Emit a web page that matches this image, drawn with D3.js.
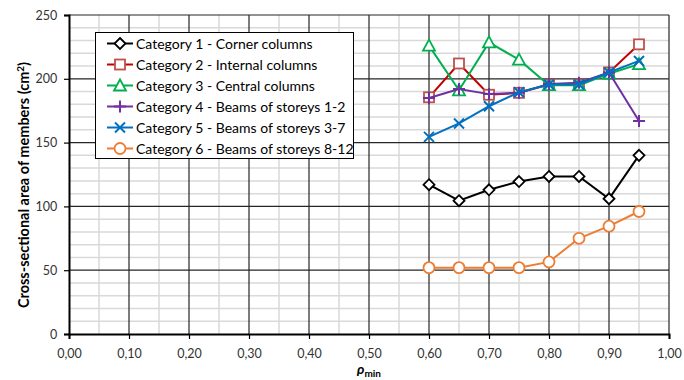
<!DOCTYPE html>
<html><head><meta charset="utf-8">
<script src="https://cdn.jsdelivr.net/npm/d3@7"></script>
<style>body{margin:0;background:#fff}svg{display:block}</style>
</head><body><svg id="c" width="684" height="380"></svg>
<script>
const xValues = [0.6, 0.65, 0.7, 0.75, 0.8, 0.85, 0.9, 0.95];
const seriesNames = [
  "Category 1 - Corner columns",
  "Category 2 - Internal columns",
  "Category 3 - Central columns",
  "Category 4 - Beams of storeys 1-2",
  "Category 5 - Beams of storeys 3-7",
  "Category 6 - Beams of storeys 8-12"
];
const cat1 = [117, 104.5, 113, 119.5, 123.5, 123.5, 106, 140];
const cat2 = [185.5, 212, 187.5, 189, 195.5, 195.5, 205, 227];
const cat3 = [226, 191, 228.5, 215, 195, 195, 204, 211.5];
const cat4 = [185, 192, 188, 189, 196, 197, 205, 167];
const cat5 = [154.5, 165, 178.5, 189.5, 195.5, 195.5, 205, 214];
const cat6 = [52, 52, 52, 52, 56.5, 75, 84.5, 96];
const xTicks = [0,0.1,0.2,0.3,0.4,0.5,0.6,0.7,0.8,0.9,1.0];
const yTicks = [0,50,100,150,200,250];

const seriesData = [cat1,cat2,cat3,cat4,cat5,cat6];
const lineColors = ["#000000","#c00000","#00b050","#7030a0","#0070c0","#ed7d31"];
const markerStroke = ["#000000","#c0504d","#00b050","#7030a0","#0070c0","#ed7d31"];
const markerType = ["diamond","square","triangle","plus","cross","circle"];
const FONT = "Lato, 'Open Sans', sans-serif";

const svg = d3.select("#c");
const L=69, R=669, T=15, B=334;
const x = d3.scaleLinear().domain([0,1]).range([L,R]);
const y = d3.scaleLinear().domain([0,250]).range([B,T]);

const g = svg.append("g");
// minor grid
g.selectAll(".mx").data(d3.range(0.05,1,0.1)).enter().append("line")
  .attr("x1",d=>x(d)).attr("x2",d=>x(d)).attr("y1",T).attr("y2",B)
  .attr("stroke","#d9d9d9").attr("stroke-width",1.5);
g.selectAll(".my").data(d3.range(10,250,10).filter(v=>v%50!==0)).enter().append("line")
  .attr("y1",d=>y(d)).attr("y2",d=>y(d)).attr("x1",L).attr("x2",R)
  .attr("stroke","#d9d9d9").attr("stroke-width",1.5);
// major grid
g.selectAll(".Mx").data(xTicks.slice(1)).enter().append("line")
  .attr("x1",d=>x(d)).attr("x2",d=>x(d)).attr("y1",T).attr("y2",B)
  .attr("stroke","#262626").attr("stroke-width",1.2);
g.selectAll(".My").data(yTicks.slice(1)).enter().append("line")
  .attr("y1",d=>y(d)).attr("y2",d=>y(d)).attr("x1",L).attr("x2",R)
  .attr("stroke","#262626").attr("stroke-width",1.2);

// axes
const xAxis = d3.axisBottom(x).tickValues(xTicks).tickSize(5).tickFormat(d=>d3.format(".2f")(d).replace(".",","));
const ax = svg.append("g").attr("transform",`translate(0,${B})`).call(xAxis);
ax.select(".domain").attr("stroke","#000").attr("stroke-width",2);
ax.selectAll(".tick line").attr("stroke","#000").attr("stroke-width",1.2);
ax.selectAll("text").attr("font-family",FONT).attr("font-size",12.5).attr("fill","#333").attr("dy","1.25em");
const yAxis = d3.axisLeft(y).tickValues(yTicks).tickSize(5).tickFormat(d3.format("d"));
const ay = svg.append("g").attr("transform",`translate(${L},0)`).call(yAxis);
ay.select(".domain").attr("stroke","#000").attr("stroke-width",2);
ay.selectAll(".tick line").attr("stroke","#000").attr("stroke-width",1.2);
ay.selectAll("text").attr("font-family",FONT).attr("font-size",12.5).attr("fill","#333").attr("dx","-0.3em");

// titles
svg.append("text").attr("transform",`translate(29,185) rotate(-90)`)
  .attr("text-anchor","middle").attr("font-family",FONT).attr("font-weight","bold").attr("font-size",14.5).attr("fill","#000")
  .html('Cross-sectional area of members (cm<tspan dy="-5" font-size="10">2</tspan><tspan dy="5">)</tspan>');
const xt = svg.append("text").attr("x",x(0.5)).attr("y",374).attr("text-anchor","middle")
  .attr("font-family",FONT).attr("font-weight","bold").attr("font-size",14).attr("fill","#000");
xt.append("tspan").attr("font-style","italic").text("ρ");
xt.append("tspan").attr("font-size",10).attr("dy",3).text("min");

function marker(sel, type, color){
  if(type==="diamond") sel.append("path").attr("d",`M0,${-5.5}L5.5,0L0,5.5L-5.5,0Z`).attr("fill","#fff").attr("stroke",color).attr("stroke-width",1.8);
  else if(type==="square") sel.append("rect").attr("x",-5).attr("y",-5).attr("width",10).attr("height",10).attr("fill","#fff").attr("stroke",color).attr("stroke-width",1.8);
  else if(type==="triangle") sel.append("path").attr("d","M0,-6L6,5L-6,5Z").attr("fill","#fff").attr("stroke",color).attr("stroke-width",1.8);
  else if(type==="plus") sel.append("path").attr("d","M-6,0L6,0M0,-6L0,6").attr("stroke",color).attr("stroke-width",2);
  else if(type==="cross") sel.append("path").attr("d","M-5,-5L5,5M-5,5L5,-5").attr("stroke",color).attr("stroke-width",2);
  else if(type==="circle") sel.append("circle").attr("r",5.5).attr("fill","#fff").attr("stroke",color).attr("stroke-width",1.8);
}

const line = d3.line().x((d,i)=>x(xValues[i])).y(d=>y(d));
seriesData.forEach((vals,k)=>{
  svg.append("path").datum(vals).attr("d",line).attr("fill","none").attr("stroke",lineColors[k]).attr("stroke-width",2);
  vals.forEach((v,i)=>{
    const m = svg.append("g").attr("transform",`translate(${x(xValues[i])},${y(v)})`);
    marker(m, markerType[k], markerStroke[k]);
  });
});

// legend
const lg = svg.append("g");
lg.append("rect").attr("x",95.5).attr("y",32.5).attr("width",258).attr("height",126).attr("fill","#fff").attr("stroke","#000").attr("stroke-width",1);
seriesNames.forEach((n,k)=>{
  const yy = 43.5 + k*21;
  lg.append("line").attr("x1",107).attr("x2",133).attr("y1",yy).attr("y2",yy).attr("stroke",lineColors[k]).attr("stroke-width",2);
  const m = lg.append("g").attr("transform",`translate(120,${yy})`);
  marker(m, markerType[k], markerStroke[k]);
  lg.append("text").attr("x",136).attr("y",yy+5).attr("font-family",FONT).attr("font-size",14).attr("fill","#000").text(n);
});
</script></body></html>
